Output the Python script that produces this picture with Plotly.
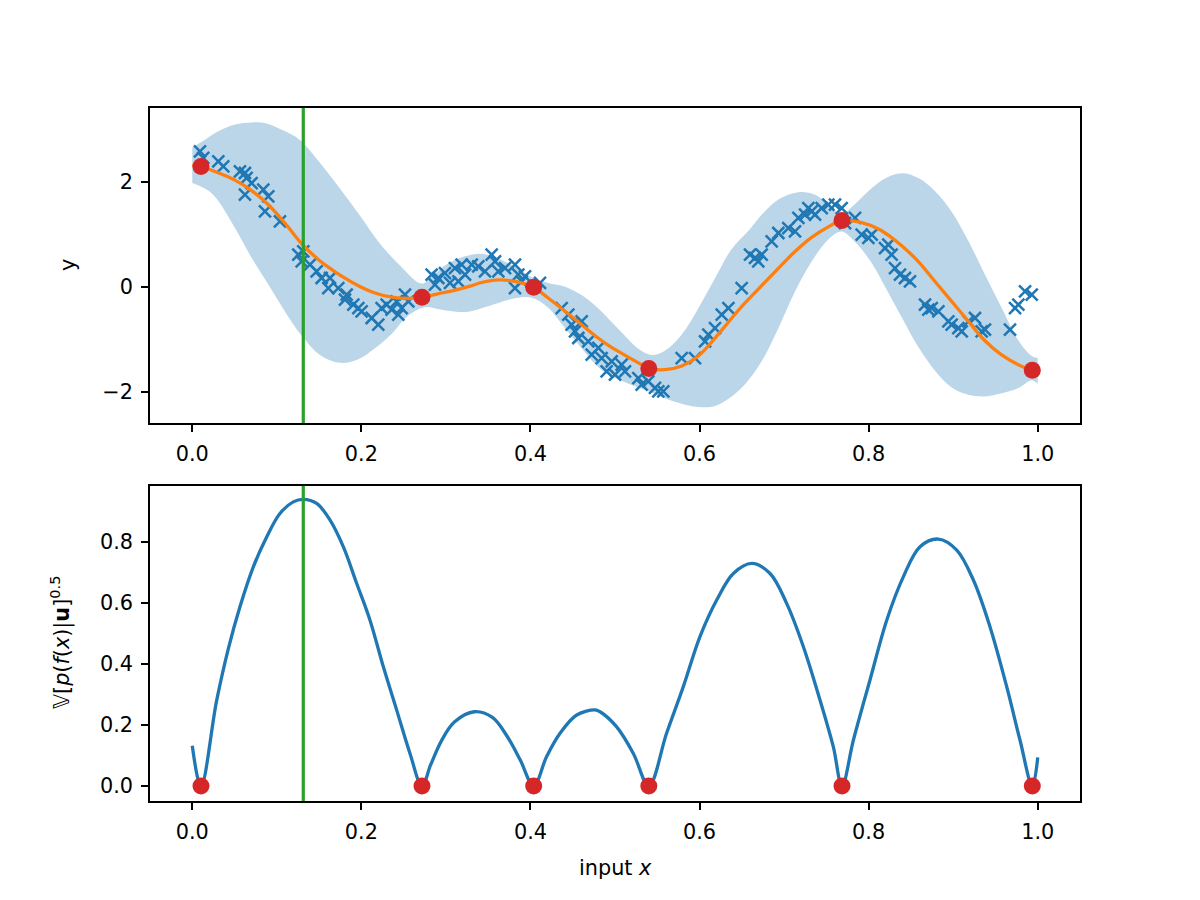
import plotly.graph_objects as go

# ---------------- data ----------------
# observations (blue crosses)
obs_x = [0.0091, 0.0130, 0.0308, 0.0367, 0.0564, 0.0623, 0.0643, 0.0702, 0.0840, 0.0899,
         0.0623, 0.0860, 0.1037, 0.1254, 0.1313, 0.1294, 0.1392, 0.1471, 0.1530, 0.1609,
         0.1629, 0.1727, 0.1826, 0.1806, 0.1905, 0.1964, 0.2003, 0.2122, 0.2200, 0.2240,
         0.2299, 0.2358, 0.2417, 0.2477, 0.2516, 0.2555, 0.2437, 0.2831, 0.2910, 0.2989,
         0.3107, 0.3186, 0.3226, 0.3147, 0.3048, 0.2871, 0.3305, 0.3383, 0.3462, 0.3541,
         0.3581, 0.3620, 0.3699, 0.3817, 0.3857, 0.3935, 0.3817, 0.3896, 0.4113, 0.4369,
         0.4448, 0.4487, 0.4527, 0.4606, 0.4566, 0.4684, 0.4724, 0.4803, 0.4842, 0.4901,
         0.4961, 0.5000, 0.5079, 0.5118, 0.5276, 0.5315, 0.5394, 0.5473, 0.5512, 0.5571,
         0.5789, 0.5946, 0.6065, 0.6104, 0.6183, 0.6262, 0.6341, 0.6498, 0.6597, 0.6656,
         0.6695, 0.6735, 0.6853, 0.6932, 0.7050, 0.7129, 0.7169, 0.7248, 0.7287, 0.7326,
         0.7366, 0.7445, 0.7523, 0.7602, 0.7681, 0.7721, 0.7839, 0.7918, 0.7997, 0.8036,
         0.8194, 0.8233, 0.8272, 0.8312, 0.8371, 0.8430, 0.8489, 0.8667, 0.8746, 0.8706,
         0.8825, 0.8943, 0.8982, 0.9061, 0.9101, 0.9180, 0.9258, 0.9337, 0.9376, 0.9672,
         0.9732, 0.9771, 0.9850, 0.9929]
obs_y = [2.579, 2.452, 2.388, 2.293, 2.198, 2.166, 2.071, 1.975, 1.848, 1.721,
         1.753, 1.436, 1.245, 0.610, 0.674, 0.483, 0.420, 0.293, 0.166, -0.025,
         0.166, -0.025, -0.152, -0.247, -0.342, -0.406, -0.469, -0.596, -0.723, -0.406,
         -0.342, -0.437, -0.279, -0.406, -0.152, -0.279, -0.533, 0.229, 0.166, 0.261,
         0.356, 0.420, 0.229, 0.102, 0.071, 0.039, 0.420, 0.388, 0.293, 0.610,
         0.483, 0.293, 0.356, 0.420, 0.229, 0.197, -0.025, 0.102, 0.071, -0.406,
         -0.533, -0.723, -0.850, -0.660, -0.977, -1.040, -1.294, -1.167, -1.358, -1.612,
         -1.421, -1.675, -1.485, -1.612, -1.739, -1.866, -1.802, -1.929, -1.993, -1.993,
         -1.358, -1.358, -1.040, -0.914, -0.787, -0.533, -0.406, -0.025, 0.610, 0.547,
         0.483, 0.610, 0.864, 1.023, 1.118, 1.055, 1.309, 1.372, 1.499, 1.436,
         1.372, 1.499, 1.563, 1.563, 1.499, 1.213, 1.309, 0.991, 0.928, 0.991,
         0.737, 0.801, 0.610, 0.356, 0.229, 0.166, 0.102, -0.342, -0.406, -0.437,
         -0.469, -0.660, -0.723, -0.787, -0.850, -0.660, -0.596, -0.850, -0.818, -0.818,
         -0.406, -0.342, -0.088, -0.152]

# posterior mean (orange)
mean_x = [0.0, 0.0103, 0.0308, 0.0505, 0.0702, 0.09, 0.1096, 0.1293, 0.149, 0.163,
          0.1767, 0.1964, 0.2161, 0.2358, 0.2555, 0.2713, 0.2949, 0.3147, 0.3285, 0.3423,
          0.362, 0.3817, 0.4034, 0.421, 0.441, 0.4605, 0.48, 0.494, 0.508, 0.5277,
          0.5402, 0.559, 0.579, 0.5986, 0.6183, 0.638, 0.6538, 0.6735, 0.6932, 0.7129,
          0.7326, 0.7523, 0.768, 0.7918, 0.8115, 0.8253, 0.8391, 0.8588, 0.8785, 0.8982,
          0.918, 0.9376, 0.9573, 0.977, 0.9928, 1.0]
mean_y = [2.31, 2.29, 2.17, 2.03, 1.83, 1.56, 1.21, 0.82, 0.52, 0.35,
          0.20, 0.02, -0.12, -0.20, -0.225, -0.20, -0.12, -0.05, 0.01, 0.08,
          0.13, 0.10, -0.01, -0.215, -0.469, -0.723, -0.977, -1.136, -1.27, -1.45,
          -1.555, -1.58, -1.51, -1.32, -0.98, -0.60, -0.31, 0.02, 0.35, 0.67,
          0.94, 1.14, 1.258, 1.22, 1.10, 0.96, 0.78, 0.48, 0.10, -0.28,
          -0.66, -1.03, -1.30, -1.485, -1.59, -1.61]

# confidence band (upper / lower edges)
upper_x = [0.0, 0.015, 0.0308, 0.0505, 0.0702, 0.086, 0.1057, 0.127, 0.151, 0.175,
           0.198, 0.222, 0.246, 0.2713, 0.285, 0.30, 0.3226, 0.346,
           0.3817, 0.4014, 0.421, 0.441, 0.4605, 0.48, 0.494, 0.508, 0.5277, 0.5434,
           0.559, 0.579, 0.5986, 0.6183, 0.638, 0.6597, 0.6735, 0.6932, 0.7168, 0.7366,
           0.7563, 0.768, 0.78, 0.7997, 0.8194, 0.8391, 0.8588, 0.8785, 0.8982, 0.918,
           0.9376, 0.9573, 0.977, 0.9928, 1.0]
upper_y = [2.65, 2.80, 2.96, 3.09, 3.13, 3.12, 2.99, 2.80, 2.36, 1.86,
           1.36, 0.82, 0.40, 0.06, 0.22, 0.42, 0.58, 0.62,
           0.38, 0.18, 0.07, 0.0, -0.16, -0.41, -0.64, -0.87, -1.18, -1.30,
           -1.22, -0.91, -0.41, 0.16, 0.72, 1.10, 1.37, 1.66, 1.80, 1.75,
           1.52, 1.38, 1.52, 1.82, 2.06, 2.16, 2.07, 1.82, 1.43, 0.87,
           0.23, -0.40, -1.02, -1.32, -1.36]
lower_x = [0.0, 0.0229, 0.0505, 0.0702, 0.09, 0.1096, 0.1293, 0.151, 0.175,
           0.1964, 0.2161, 0.2358, 0.2555, 0.275, 0.2949, 0.3147, 0.3285, 0.3423, 0.362,
           0.3817, 0.4014, 0.421, 0.441, 0.4605, 0.48, 0.494, 0.5118, 0.5394, 0.567,
           0.5986, 0.6183, 0.638, 0.6538, 0.6735, 0.6932, 0.7129, 0.7326, 0.7523, 0.768,
           0.784, 0.8036, 0.8194, 0.8391, 0.8588, 0.8785, 0.8982, 0.918, 0.9376, 0.9573,
           0.977, 0.9928, 1.0]
lower_y = [1.975, 1.78, 1.12, 0.55, 0.04, -0.47, -0.93, -1.30, -1.45,
           -1.38, -1.17, -0.90, -0.55, -0.39, -0.44, -0.48, -0.47, -0.41, -0.31,
           -0.22, -0.21, -0.40, -0.79, -1.17, -1.53, -1.69, -1.82, -1.99, -2.17,
           -2.29, -2.27, -2.09, -1.86, -1.42, -0.79, -0.09, 0.48, 0.90, 1.05,
           0.85, 0.45, 0.0, -0.58, -1.15, -1.60, -1.92, -2.06, -2.09, -2.03,
           -1.93, -1.78, -1.85]

# inducing points (red)
ind_x = [0.0103, 0.2717, 0.4038, 0.540, 0.7685, 0.9936]
ind_y = [2.29, -0.20, -0.01, -1.56, 1.26, -1.59]
ind_zero = [0.0, 0.0, 0.0, 0.0, 0.0, 0.0]

# predictive std (bottom panel)
std_x = [0.0, 0.0103, 0.0288, 0.0426, 0.0564, 0.0722, 0.088, 0.1037, 0.1195, 0.1313,
         0.1471, 0.163, 0.1786, 0.1944, 0.2102, 0.226, 0.2418, 0.2575, 0.2717, 0.282,
         0.295, 0.31, 0.3336, 0.355, 0.372, 0.388, 0.4038, 0.419, 0.435, 0.4547,
         0.4763, 0.4823, 0.502, 0.5217, 0.540, 0.561, 0.5808, 0.6005, 0.6203, 0.64,
         0.6617, 0.6834, 0.703, 0.7228, 0.7425, 0.7582, 0.7685, 0.782, 0.8016, 0.8214,
         0.841, 0.8608, 0.8825, 0.9042, 0.924, 0.9436, 0.9633, 0.979, 0.9936, 1.0]
std_y = [0.132, 0.0, 0.28, 0.45, 0.588, 0.719, 0.817, 0.894, 0.932, 0.94,
         0.927, 0.872, 0.785, 0.665, 0.544, 0.391, 0.249, 0.107, 0.0, 0.07,
         0.15, 0.21, 0.2437, 0.225, 0.165, 0.085, 0.0, 0.096, 0.173, 0.233,
         0.25, 0.2437, 0.194, 0.107, 0.0, 0.173, 0.326, 0.49, 0.61, 0.697,
         0.730, 0.697, 0.599, 0.457, 0.282, 0.129, 0.0, 0.151, 0.348, 0.544,
         0.686, 0.785, 0.81, 0.774, 0.675, 0.522, 0.326, 0.151, 0.0, 0.094]

selected_x = 0.1313

x_ticks = [0.0, 0.2, 0.4, 0.6, 0.8, 1.0]
x_ticklabels = ["0.0", "0.2", "0.4", "0.6", "0.8", "1.0"]
y1_ticks = [-2, 0, 2]
y1_ticklabels = ["\u22122", "0", "2"]
y2_ticks = [0.0, 0.2, 0.4, 0.6, 0.8]
y2_ticklabels = ["0.0", "0.2", "0.4", "0.6", "0.8"]

# ---------------- styling ----------------
BLUE = "#1f77b4"
ORANGE = "#ff7f0e"
RED = "#d62728"
GREEN = "#2ca02c"
FONT = "DejaVu Sans"
FS = 20.8

fig = go.Figure()

# band
fig.add_trace(go.Scatter(x=lower_x, y=lower_y, mode="lines",
                         line=dict(width=0, shape="spline", smoothing=1.0, color="rgba(0,0,0,0)"),
                         xaxis="x", yaxis="y", showlegend=False, hoverinfo="skip"))
fig.add_trace(go.Scatter(x=upper_x, y=upper_y, mode="lines", fill="tonexty",
                         fillcolor="rgba(31,119,180,0.3)",
                         line=dict(width=0, shape="spline", smoothing=1.0, color="rgba(0,0,0,0)"),
                         xaxis="x", yaxis="y", showlegend=False, hoverinfo="skip"))
# observations
fig.add_trace(go.Scatter(x=obs_x, y=obs_y, mode="markers",
                         marker=dict(symbol="x-thin", size=12, color=BLUE,
                                     line=dict(width=2.5, color=BLUE)),
                         xaxis="x", yaxis="y", showlegend=False))
# mean
fig.add_trace(go.Scatter(x=mean_x, y=mean_y, mode="lines",
                         line=dict(color=ORANGE, width=3.3, shape="spline", smoothing=1.0),
                         xaxis="x", yaxis="y", showlegend=False))
# inducing points top
fig.add_trace(go.Scatter(x=ind_x, y=ind_y, mode="markers",
                         marker=dict(size=17, color=RED),
                         xaxis="x", yaxis="y", showlegend=False))
# std curve
fig.add_trace(go.Scatter(x=std_x, y=std_y, mode="lines",
                         line=dict(color=BLUE, width=3.3, shape="spline", smoothing=1.0),
                         xaxis="x2", yaxis="y2", showlegend=False))
fig.add_trace(go.Scatter(x=ind_x, y=ind_zero, mode="markers",
                         marker=dict(size=17, color=RED),
                         xaxis="x2", yaxis="y2", showlegend=False))

# selected-location vertical lines
for xr, yr in (("x", "y domain"), ("x2", "y2 domain")):
    fig.add_shape(type="line", xref=xr, yref=yr, x0=selected_x, x1=selected_x, y0=0, y1=1,
                  line=dict(color=GREEN, width=3.2), layer="above")

axis_common = dict(showgrid=False, zeroline=False, showline=True, linecolor="black",
                   linewidth=1.6, mirror=True, ticks="outside", ticklen=7, tickwidth=1.6,
                   tickcolor="black", tickfont=dict(family=FONT, size=FS, color="black"),
                   ticklabelstandoff=4)

fig.update_layout(
    width=1200, height=900,
    margin=dict(l=0, r=0, t=0, b=0),
    paper_bgcolor="white", plot_bgcolor="white",
    font=dict(family=FONT, size=FS, color="black"),
    showlegend=False,
    xaxis=dict(domain=[0.125, 0.9], range=[-0.05, 1.05], anchor="y",
               tickvals=x_ticks, ticktext=x_ticklabels, **axis_common),
    yaxis=dict(domain=[0.53, 0.88], range=[-2.596, 3.404], anchor="x",
               tickvals=y1_ticks, ticktext=y1_ticklabels, **axis_common),
    xaxis2=dict(domain=[0.125, 0.9], range=[-0.05, 1.05], anchor="y2",
                tickvals=x_ticks, ticktext=x_ticklabels, **axis_common),
    yaxis2=dict(domain=[0.11, 0.46], range=[-0.049, 0.984], anchor="x2",
                tickvals=y2_ticks, ticktext=y2_ticklabels, **axis_common),
    annotations=[
        dict(text="y", xref="paper", yref="paper", x=68 / 1200, y=1 - 265 / 900,
             textangle=-90, showarrow=False, xanchor="center", yanchor="middle",
             font=dict(family=FONT, size=FS, color="black")),
        dict(text="\U0001D54D[<i>p</i>(<i>f</i>(<i>x</i>)|<b>u</b>]<sup>0.5</sup>",
             xref="paper", yref="paper", x=60 / 1200, y=1 - 643 / 900,
             textangle=-90, showarrow=False, xanchor="center", yanchor="middle",
             font=dict(family=FONT, size=FS, color="black")),
        dict(text="input <i>x</i>", xref="paper", yref="paper", x=615 / 1200, y=1 - 868 / 900,
             showarrow=False, xanchor="center", yanchor="middle",
             font=dict(family=FONT, size=FS, color="black")),
    ],
)

fig.write_html("out.html")
